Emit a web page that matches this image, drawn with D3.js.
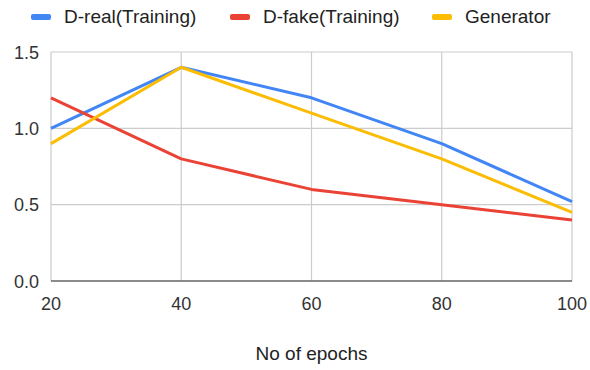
<!DOCTYPE html>
<html lang="en">
<head>
<meta charset="UTF-8">
<title>GAN losses</title>
<script src="https://d3js.org/d3.v7.min.js"></script>
<style>
  body { margin: 0; background: #fff; font-family: Arial, "Liberation Sans", sans-serif; }
</style>
</head>
<body>
<div id="chart"></div>
<script>
const epochs = [20, 40, 60, 80, 100];
const dReal = [1.0, 1.4, 1.2, 0.9, 0.52];
const dFake = [1.2, 0.8, 0.6, 0.5, 0.4];
const generator = [0.9, 1.4, 1.1, 0.8, 0.45];
const yTicks = [0, 0.5, 1.0, 1.5];

const width = 590, height = 370;
const margin = {top: 52, right: 18, bottom: 89, left: 51};

const svg = d3.select("#chart").append("svg")
    .attr("width", width)
    .attr("height", height);

const x = d3.scaleLinear().domain([20, 100]).range([margin.left, width - margin.right]);
const y = d3.scaleLinear().domain([0, 1.5]).range([height - margin.bottom, margin.top]);

// horizontal gridlines
svg.append("g")
    .selectAll("line")
    .data(yTicks)
    .join("line")
    .attr("x1", margin.left).attr("x2", width - margin.right)
    .attr("y1", d => y(d)).attr("y2", d => y(d))
    .attr("stroke", "#cccccc").attr("stroke-width", 1.2);

// vertical gridlines
svg.append("g")
    .selectAll("line")
    .data(epochs)
    .join("line")
    .attr("x1", d => x(d)).attr("x2", d => x(d))
    .attr("y1", y(1.5)).attr("y2", y(0))
    .attr("stroke", "#cccccc").attr("stroke-width", 1.2);

// y tick labels
svg.append("g")
    .selectAll("text")
    .data(yTicks)
    .join("text")
    .attr("x", margin.left - 12)
    .attr("y", d => y(d) + 6.5)
    .attr("text-anchor", "end")
    .attr("font-size", 18)
    .attr("fill", "#333")
    .text(d => d3.format(".1f")(d));

// x tick labels
svg.append("g")
    .selectAll("text")
    .data(epochs)
    .join("text")
    .attr("x", d => x(d))
    .attr("y", y(0) + 29)
    .attr("text-anchor", "middle")
    .attr("font-size", 18)
    .attr("fill", "#333")
    .text(d => d);

// baseline
svg.append("line")
    .attr("x1", margin.left).attr("x2", width - margin.right)
    .attr("y1", y(0)).attr("y2", y(0))
    .attr("stroke", "#333").attr("stroke-width", 1.2);

// x axis title
svg.append("text")
    .attr("x", (x(20) + x(100)) / 2)
    .attr("y", 360)
    .attr("text-anchor", "middle")
    .attr("font-size", 19)
    .attr("fill", "#222")
    .text("No of epochs");

const series = [
    {name: "D-real(Training)", values: dReal, color: "#4285f4"},
    {name: "D-fake(Training)", values: dFake, color: "#ea4335"},
    {name: "Generator", values: generator, color: "#fbbc04"}
];

const line = d3.line()
    .x((d, i) => x(epochs[i]))
    .y(d => y(d));

series.forEach(s => {
    svg.append("path")
        .datum(s.values)
        .attr("fill", "none")
        .attr("stroke", s.color)
        .attr("stroke-width", 3)
        .attr("stroke-linejoin", "round")
        .attr("d", line);
});

// legend
const legendX = [31, 230, 432];
const legend = svg.append("g");
series.forEach((s, i) => {
    legend.append("rect")
        .attr("x", legendX[i]).attr("y", 14)
        .attr("width", 20).attr("height", 6)
        .attr("rx", 2)
        .attr("fill", s.color);
    legend.append("text")
        .attr("x", legendX[i] + 33)
        .attr("y", 23)
        .attr("font-size", 19)
        .attr("fill", "#222")
        .text(s.name);
});
</script>
</body>
</html>
